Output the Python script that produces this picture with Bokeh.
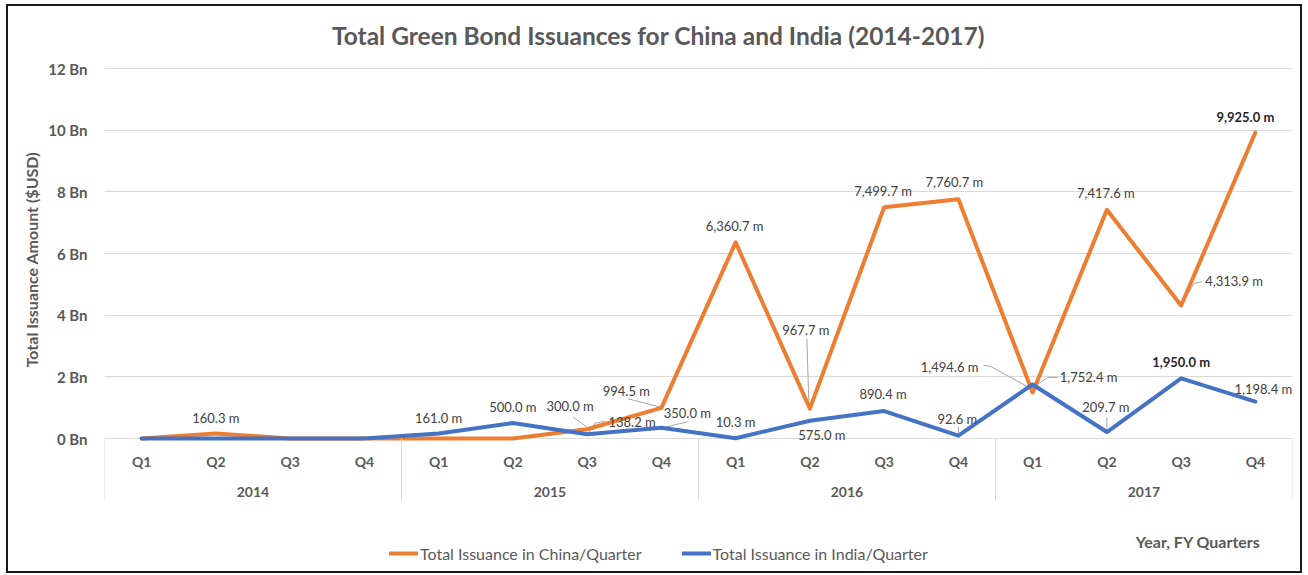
from bokeh.plotting import figure
from bokeh.models import (ColumnDataSource, Range1d, FixedTicker, LinearAxis, Grid,
                          LabelSet, Label, Legend, LegendItem)
from bokeh.core.properties import value
from bokeh.embed import file_html
from bokeh.resources import INLINE

# ---------------- data ----------------
years = ["2014", "2015", "2016", "2017"]
quarters = ["Q1", "Q2", "Q3", "Q4"]
china = [0, 160.3, 0, 0,
         0, 0, 300.0, 994.5,
         6360.7, 967.7, 7499.7, 7760.7,
         1494.6, 7417.6, 4313.9, 9925.0]
india = [0, 0, 0, 0,
         161.0, 500.0, 138.2, 350.0,
         10.3, 575.0, 890.4, 92.6,
         1752.4, 209.7, 1950.0, 1198.4]
y_ticks = [0, 2000, 4000, 6000, 8000, 10000, 12000]
y_tick_labels = ["0 Bn", "2 Bn", "4 Bn", "6 Bn", "8 Bn", "10 Bn", "12 Bn"]
series_names = ["Total Issuance in China/Quarter", "Total Issuance in India/Quarter"]
title_text = "Total Green Bond Issuances for China and India (2014-2017)"
y_title = "Total Issuance Amount ($USD)"
x_title = "Year, FY Quarters"

# ---------------- label placement (pixel offsets: dx right, dy down) ----------------
china_label_off = [None, (0, -16), None, None,
                   None, None, (-17, -23), (-35, -17),
                   (-1, -16), (-4, -79), (-1, -16), (-4, -17),
                   (-83, -25), (-1, -17), (53, -24), (-10, -15)]
india_label_off = [None, None, None, None,
                   (0, -16), (0, -16), (45, -12), (26, -15),
                   (0, -16), (12, 14), (-1, -17), (-1, -17),
                   (56, -7), (-1, -25), (0, -16), (8, -13)]
china_bold = [15]
india_bold = [14]
# leader lines: (series, index, list of pixel offsets from the point)
leaders = [
    ("china", 6, [(0, -2), (-14, -12)]),
    ("india", 6, [(2, -2), (8, -11), (18, -13)]),
    ("china", 7, [(-2, -1), (-33, -9)]),
    ("india", 7, [(2, 0), (26, -6)]),
    ("china", 9, [(-1, -4), (-3, -70)]),
    ("china", 12, [(-2, -4), (-42, -26), (-49, -27)]),
    ("india", 12, [(3, 1), (15, -7), (25, -7)]),
    ("india", 11, [(0, -2), (0, -9)]),
    ("india", 13, [(0, -2), (0, -15)]),
    ("china", 14, [(2, -4), (13, -22), (21, -24)]),
]

# ---------------- layout ----------------
W, H = 1296, 569
B_L, B_R, B_T, B_B = 96, 12, 2, 3
frame_w = W - B_L - B_R
VALUE_H = 370          # pixels used by the value scale (0 .. 12 Bn)
TOP_PAD = 60           # frame pixels above 12 Bn (title area)
BOTTOM_PAD = H - B_T - B_B - VALUE_H - TOP_PAD   # frame pixels below 0 (categories, legend)
n = len(china)
Y_MAX = 12000
px_x = frame_w / n
px_y = VALUE_H / Y_MAX
Y_TOP = Y_MAX + TOP_PAD / px_y
Y_MIN = -BOTTOM_PAD / px_y

ORANGE = "#ED7D31"
BLUE = "#4472C4"
TXT = "#595959"
LBL = "#404040"
GRID = "#d9d9d9"
FONT = "Lato"

p = figure(width=W, height=H, x_range=Range1d(-0.5, n - 0.5), y_range=Range1d(Y_MIN, Y_TOP),
           output_backend="svg", toolbar_location=None, x_axis_type=None, y_axis_type=None,
           min_border_left=B_L, min_border_right=B_R, min_border_top=B_T,
           min_border_bottom=B_B)
p.title.visible = False
p.outline_line_color = None
p.background_fill_color = "white"
p.border_fill_color = "white"
p.styles = {"margin-left": "6px", "margin-top": "4px", "border": "2px solid #1a1a1a"}

# y axis; its title is centred on the 0..12 Bn part of the frame by padding it
# on the lower side with non-breaking spaces (the frame also holds title and categories)
pad = "\u00a0" * 16
ya = LinearAxis(ticker=FixedTicker(ticks=y_ticks, minor_ticks=[]),
                major_label_overrides={t: l for t, l in zip(y_ticks, y_tick_labels)},
                axis_label=pad + y_title, bounds=(0, Y_MAX))
ya.axis_line_color = None
ya.major_tick_out = 0
ya.major_tick_in = 0
ya.minor_tick_out = 0
ya.major_label_standoff = 17
ya.major_label_text_font = FONT
ya.major_label_text_font_style = "bold"
ya.major_label_text_font_size = "15px"
ya.major_label_text_color = TXT
ya.axis_label_text_font = FONT
ya.axis_label_text_font_style = "bold"
ya.axis_label_text_font_size = "16px"
ya.axis_label_text_color = TXT
ya.axis_label_standoff = 4
p.add_layout(ya, "left")

# quarter axis (fixed at the zero line)
qticks = list(range(n))
bounds = [i * 4 - 0.5 for i in range(len(years) + 1)]
xq = LinearAxis(ticker=FixedTicker(ticks=qticks, minor_ticks=[]),
                major_label_overrides={i: quarters[i % 4] for i in qticks},
                fixed_location=0)
xq.axis_line_color = None
xq.major_tick_out = 0
xq.major_tick_in = 0
xq.minor_tick_out = 0
xq.minor_tick_in = 0
xq.major_label_standoff = 14
xq.major_label_text_font = FONT
xq.major_label_text_font_style = "bold"
xq.major_label_text_font_size = "14px"
xq.major_label_text_color = TXT
p.add_layout(xq, "below")

# year axis
yticks_c = [i * 4 + 1.5 for i in range(len(years))]
xy = LinearAxis(ticker=FixedTicker(ticks=yticks_c, minor_ticks=[]),
                major_label_overrides={t: y for t, y in zip(yticks_c, years)},
                fixed_location=0)
xy.axis_line_color = None
xy.major_tick_out = 0
xy.major_tick_in = 0
xy.minor_tick_out = 0
xy.minor_tick_in = 0
xy.major_label_standoff = 48
xy.major_label_text_font = FONT
xy.major_label_text_font_style = "bold"
xy.major_label_text_font_size = "14px"
xy.major_label_text_color = TXT
p.add_layout(xy, "below")

# group separators
xs_ax = LinearAxis(ticker=FixedTicker(ticks=[], minor_ticks=bounds), fixed_location=0)
xs_ax.axis_line_color = None
xs_ax.major_tick_out = 0
xs_ax.major_tick_in = 0
xs_ax.minor_tick_in = 0
xs_ax.minor_tick_out = 62
xs_ax.minor_tick_line_color = GRID
xs_ax.major_label_text_font_size = "0px"
p.add_layout(xs_ax, "below")

p.add_layout(Grid(dimension=1, ticker=ya.ticker, grid_line_color=GRID, grid_line_width=1))

# leader lines
vals = {"china": china, "india": india}
lx, ly = [], []
for s, i, offs in leaders:
    v = vals[s][i]
    lx.append([i + dx / px_x for dx, dy in offs])
    ly.append([v - dy / px_y for dx, dy in offs])
p.multi_line(lx, ly, line_color="#a6a6a6", line_width=1)

# series lines
xs = list(range(n))
src = ColumnDataSource(dict(x=xs, china=china, india=india))
r_c = p.line("x", "china", source=src, line_color=ORANGE, line_width=4, line_join="round", line_cap="round")
r_i = p.line("x", "india", source=src, line_color=BLUE, line_width=4, line_join="round", line_cap="round")

# data labels
def build(bold):
    d = dict(x=[], y=[], t=[], xo=[], yo=[])
    for name, offs, bl in (("china", china_label_off, china_bold), ("india", india_label_off, india_bold)):
        for i, o in enumerate(offs):
            if o is None or ((i in bl) != bold):
                continue
            v = vals[name][i]
            d["x"].append(i)
            d["y"].append(v)
            d["t"].append(f"{v:,.1f} m")
            d["xo"].append(o[0])
            d["yo"].append(-o[1])
    return ColumnDataSource(d)

for bold in (False, True):
    ls = LabelSet(x="x", y="y", text="t", x_offset="xo", y_offset="yo", source=build(bold),
                  text_align="center", text_baseline="middle",
                  text_font=value(FONT), text_font_size="13px",
                  text_font_style="bold" if bold else "normal",
                  text_color=LBL if not bold else "#262626")
    p.add_layout(ls)

# chart title (inside the top part of the frame)
p.add_layout(Label(x=554, y=BOTTOM_PAD + VALUE_H + 33, x_units="screen", y_units="screen",
                   text=title_text, text_align="center", text_baseline="middle",
                   text_font=FONT, text_font_style="bold", text_font_size="24.5px",
                   text_color=TXT))

# x title (inside the lower, label part of the frame)
p.add_layout(Label(x=1156, y=31, x_units="screen", y_units="screen", text=x_title,
                   text_align="right", text_baseline="middle", text_font=FONT,
                   text_font_style="bold", text_font_size="16px", text_color=TXT))

legend = Legend(items=[LegendItem(label=series_names[0], renderers=[r_c]),
                       LegendItem(label=series_names[1], renderers=[r_i])],
                location=(285, 9), orientation="horizontal", padding=0, margin=0,
                border_line_color=None, background_fill_alpha=0,
                glyph_width=29, glyph_height=20, label_standoff=2, spacing=40,
                label_text_font=FONT, label_text_font_size="16px", label_text_color=TXT)
p.add_layout(legend)

open("out.html", "w").write(file_html(p, INLINE))
